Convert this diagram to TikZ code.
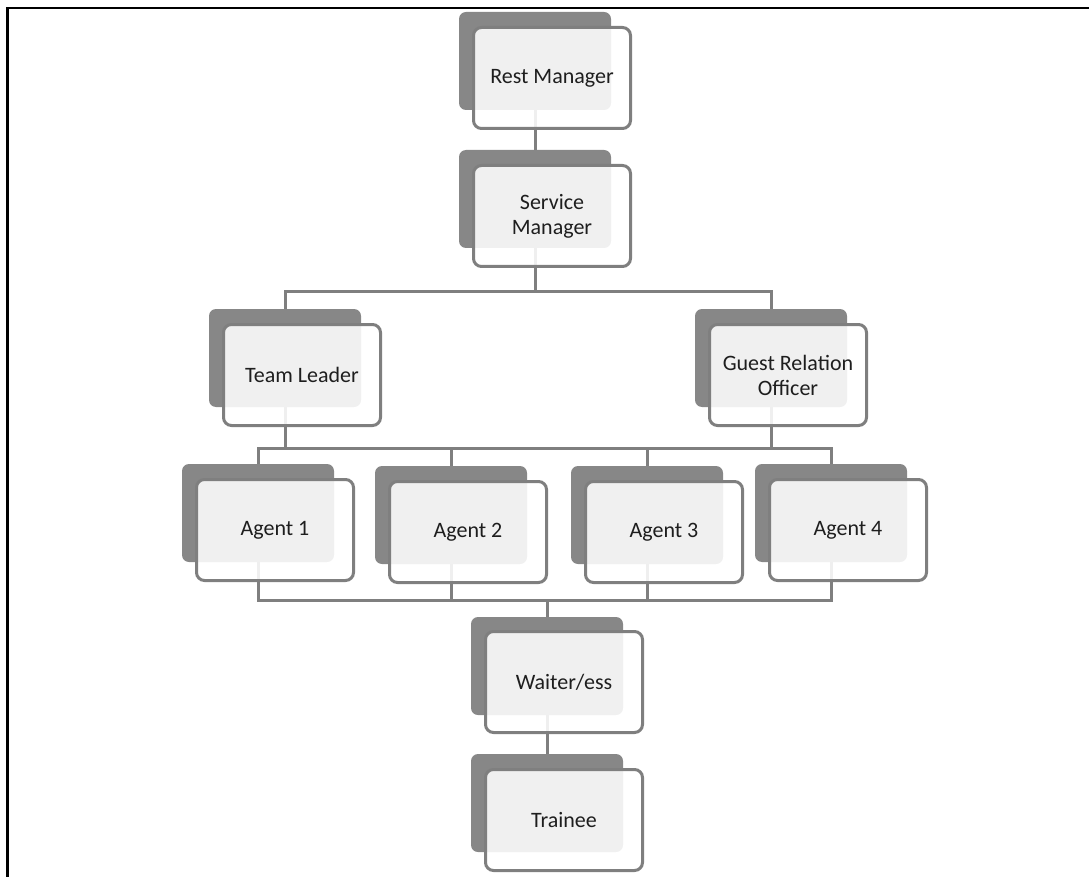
\documentclass[tikz,border=0pt]{standalone}
\usepackage{fontspec}
\setmainfont{Carlito}
\definecolor{darkbox}{HTML}{878787}
\definecolor{edge}{HTML}{7F7F7F}
\definecolor{txt}{HTML}{1E1E1E}
\tikzset{
  backbox/.style={fill=darkbox, draw=none, rounded corners=7pt, minimum width=152pt, minimum height=98pt, inner sep=0pt},
  frontbox/.style={draw=edge, line width=3pt, fill=white, fill opacity=0.88, text opacity=1, rounded corners=8pt,
    minimum width=157pt, minimum height=101pt, inner sep=0pt, align=center, text=txt,
    font=\fontsize{22}{25}\selectfont},
  link/.style={draw=edge, line width=3pt},
  frame/.style={draw=black, line width=2.2pt}
}
\begin{document}
\begin{tikzpicture}[x=1pt,y=-1pt]
\useasboundingbox (0,0) rectangle (1089,877);
% frame
\coordinate (fBL) at (7.5,877);
\coordinate (fTL) at (7.5,8);
\coordinate (fTR) at (1089,8);
\draw[frame] (fBL) -- (fTL) -- (fTR);
% back boxes
\node[backbox] (rmB) at (535,61) {};
\node[backbox] (smB) at (535,199) {};
\node[backbox] (tlB) at (285,358) {};
\node[backbox] (grB) at (771,358) {};
\node[backbox] (a1B) at (258,513) {};
\node[backbox] (a2B) at (451,515) {};
\node[backbox] (a3B) at (647,515) {};
\node[backbox] (a4B) at (831,513) {};
\node[backbox] (wB) at (547,666) {};
\node[backbox] (trB) at (547,803) {};
% bus levels
\coordinate (bus1) at (0,291);
\coordinate (bus2) at (0,448);
\coordinate (bus3) at (0,600);
% connectors
\draw[link] (rmB.south) -- (smB.north);
\draw[link] (smB.south) -- (smB.south |- bus1) -| (tlB.north);
\draw[link] (smB.south |- bus1) -| (grB.north);
\draw[link] (tlB.south) -- (tlB.south |- bus2);
\draw[link] (grB.south) -- (grB.south |- bus2);
\draw[link] (a1B.north) -- (a1B.north |- bus2) -- (a4B.north |- bus2) -- (a4B.north);
\draw[link] (a2B.north) -- (a2B.north |- bus2);
\draw[link] (a3B.north) -- (a3B.north |- bus2);
\draw[link] (a1B.south) -- (a1B.south |- bus3) -- (a4B.south |- bus3) -- (a4B.south);
\draw[link] (a2B.south) -- (a2B.south |- bus3);
\draw[link] (a3B.south) -- (a3B.south |- bus3);
\draw[link] (wB.north |- bus3) -- (wB.north);
\draw[link] (wB.south) -- (trB.north);
% front boxes
\node[frontbox] (rm) at (552,78) {Rest Manager};
\node[frontbox] (sm) at (552,216) {Service\\Manager};
\node[frontbox] (tl) at (302,375) {Team Leader};
\node[frontbox] (gr) at (788,375) {Guest Relation\\Officer};
\node[frontbox] (a1) at (275,530) {Agent 1};
\node[frontbox] (a2) at (468,532) {Agent 2};
\node[frontbox] (a3) at (664,532) {Agent 3};
\node[frontbox] (a4) at (848,530) {Agent 4};
\node[frontbox] (w) at (564,682) {Waiter/ess};
\node[frontbox] (tr) at (564,820) {Trainee};
\end{tikzpicture}
\end{document}
